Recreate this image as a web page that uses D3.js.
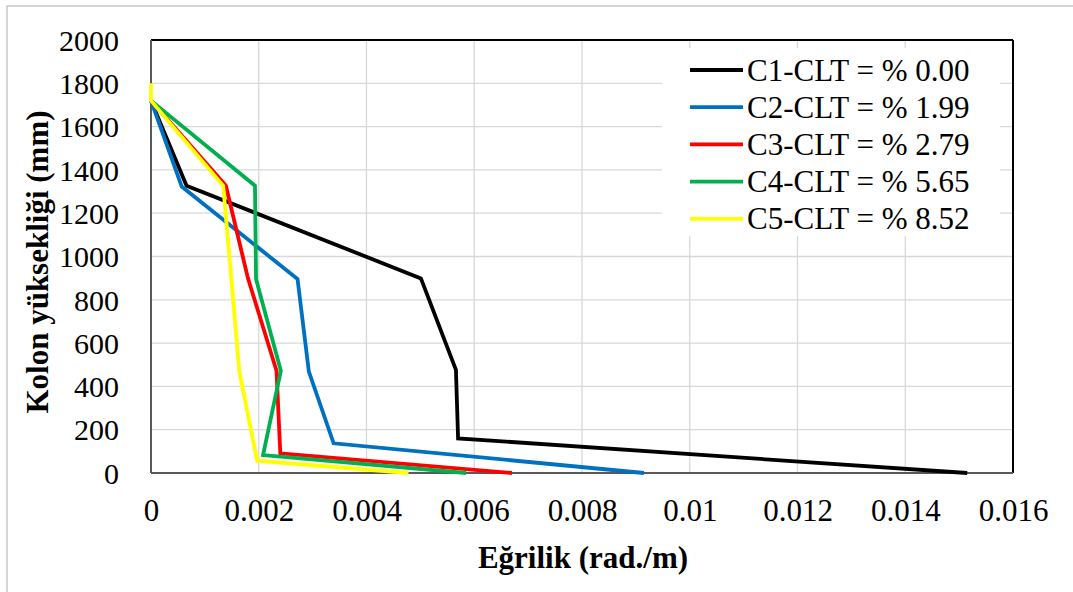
<!DOCTYPE html>
<html><head><meta charset="utf-8">
<script src="https://cdn.jsdelivr.net/npm/d3@7"></script>
<style>body{margin:0;background:#fff}svg{display:block}text{font-family:"Liberation Serif","Times New Roman",serif;fill:#000}</style>
</head><body><svg id="c" width="1073" height="592"></svg>
<script>
const seriesNames = ["C1-CLT = % 0.00","C2-CLT = % 1.99","C3-CLT = % 2.79","C4-CLT = % 5.65","C5-CLT = % 8.52"];
const seriesColors = ["#000000","#0070C0","#FF0000","#00B050","#FFFF00"];
const c1x = [0, 0.00066, 0.00501, 0.00566, 0.00570, 0.01515];
const c1y = [1720, 1327, 899, 476, 160, 0];
const c2x = [0, 0.00057, 0.00272, 0.00293, 0.00339, 0.00915];
const c2y = [1720, 1323, 896, 468, 137, 0];
const c3x = [0, 0.00139, 0.00180, 0.00233, 0.00240, 0.00670];
const c3y = [1720, 1327, 899, 472, 91, 0];
const c4x = [0, 0.00193, 0.00195, 0.00241, 0.00208, 0.00585];
const c4y = [1720, 1327, 895, 472, 83, 0];
const c5x = [0, 0, 0.00134, 0.00149, 0.00164, 0.00197, 0.00478];
const c5y = [1800, 1720, 1327, 900, 468, 57, 0];
const xTicks = [0,0.002,0.004,0.006,0.008,0.01,0.012,0.014,0.016];
const xTickLabels = ["0","0.002","0.004","0.006","0.008","0.01","0.012","0.014","0.016"];
const yTicks = [0,200,400,600,800,1000,1200,1400,1600,1800,2000];
const xTitle = "Eğrilik (rad./m)";
const yTitle = "Kolon yüksekliği (mm)";

const allX = [c1x,c2x,c3x,c4x,c5x], allY = [c1y,c2y,c3y,c4y,c5y];
const svg = d3.select("#c");
const L = 151, R = 1013, T = 40, B = 473;
const x = d3.scaleLinear().domain([0,0.016]).range([L,R]);
const y = d3.scaleLinear().domain([0,2000]).range([B,T]);

svg.append("rect").attr("x",7).attr("y",6).attr("width",1080).attr("height",600)
  .attr("fill","none").attr("stroke","#bfbfbf").attr("stroke-width",1.3);

const g = svg.append("g");
g.selectAll(".hg").data(yTicks).join("line")
  .attr("x1",L).attr("x2",R).attr("y1",d=>y(d)).attr("y2",d=>y(d))
  .attr("stroke","#d9d9d9").attr("stroke-width",1.3);
g.selectAll(".vg").data(xTicks).join("line")
  .attr("y1",T).attr("y2",B).attr("x1",d=>x(d)).attr("x2",d=>x(d))
  .attr("stroke","#d9d9d9").attr("stroke-width",1.3);

const xa = svg.append("g").attr("transform",`translate(0,${B})`)
  .call(d3.axisBottom(x).tickValues(xTicks).tickFormat((d,i)=>xTickLabels[i]).tickSize(0).tickPadding(48));
xa.select(".domain").remove();
xa.attr("font-family",null);
xa.selectAll("text").attr("font-size",31).attr("dy",0);
const ya = svg.append("g").attr("transform",`translate(${L},0)`)
  .call(d3.axisLeft(y).tickValues(yTicks).tickFormat(d3.format("d")).tickSize(0).tickPadding(32));
ya.select(".domain").remove();
ya.attr("font-family",null);
ya.selectAll("text").attr("font-size",30).attr("dy","0.34em");

svg.append("line").attr("x1",L).attr("x2",R).attr("y1",T).attr("y2",T).attr("stroke","#000").attr("stroke-width",2);
svg.append("line").attr("x1",R).attr("x2",R).attr("y1",T).attr("y2",B).attr("stroke","#000").attr("stroke-width",2);
svg.append("line").attr("x1",L).attr("x2",R).attr("y1",B).attr("y2",B).attr("stroke","#595959").attr("stroke-width",2);
svg.append("line").attr("x1",L).attr("x2",L).attr("y1",T).attr("y2",B).attr("stroke","#595959").attr("stroke-width",2);

svg.append("rect").attr("x",662).attr("y",48).attr("width",338).attr("height",188).attr("fill","#fff");

const line = d3.line().x(d=>x(d[0])).y(d=>y(d[1]));
allX.forEach((xs,i)=>{
  const pts = xs.map((v,j)=>[v, allY[i][j]]);
  svg.append("path").attr("d",line(pts)).attr("fill","none")
    .attr("stroke",seriesColors[i]).attr("stroke-width",3.8).attr("stroke-linejoin","miter");
});

const leg = svg.append("g");
seriesNames.forEach((n,i)=>{
  const cy = 70 + i*37.2;
  leg.append("line").attr("x1",690).attr("x2",743).attr("y1",cy).attr("y2",cy)
    .attr("stroke",seriesColors[i]).attr("stroke-width",3.8);
  leg.append("text").attr("x",747).attr("y",cy).attr("dy","0.34em").attr("font-size",31).text(n);
});

svg.append("text").attr("x",583).attr("y",568).attr("text-anchor","middle")
  .attr("font-size",31).attr("font-weight","bold").text(xTitle);
svg.append("text").attr("transform","translate(48,262) rotate(-90)").attr("text-anchor","middle")
  .attr("font-size",31).attr("font-weight","bold").text(yTitle);
</script></body></html>
